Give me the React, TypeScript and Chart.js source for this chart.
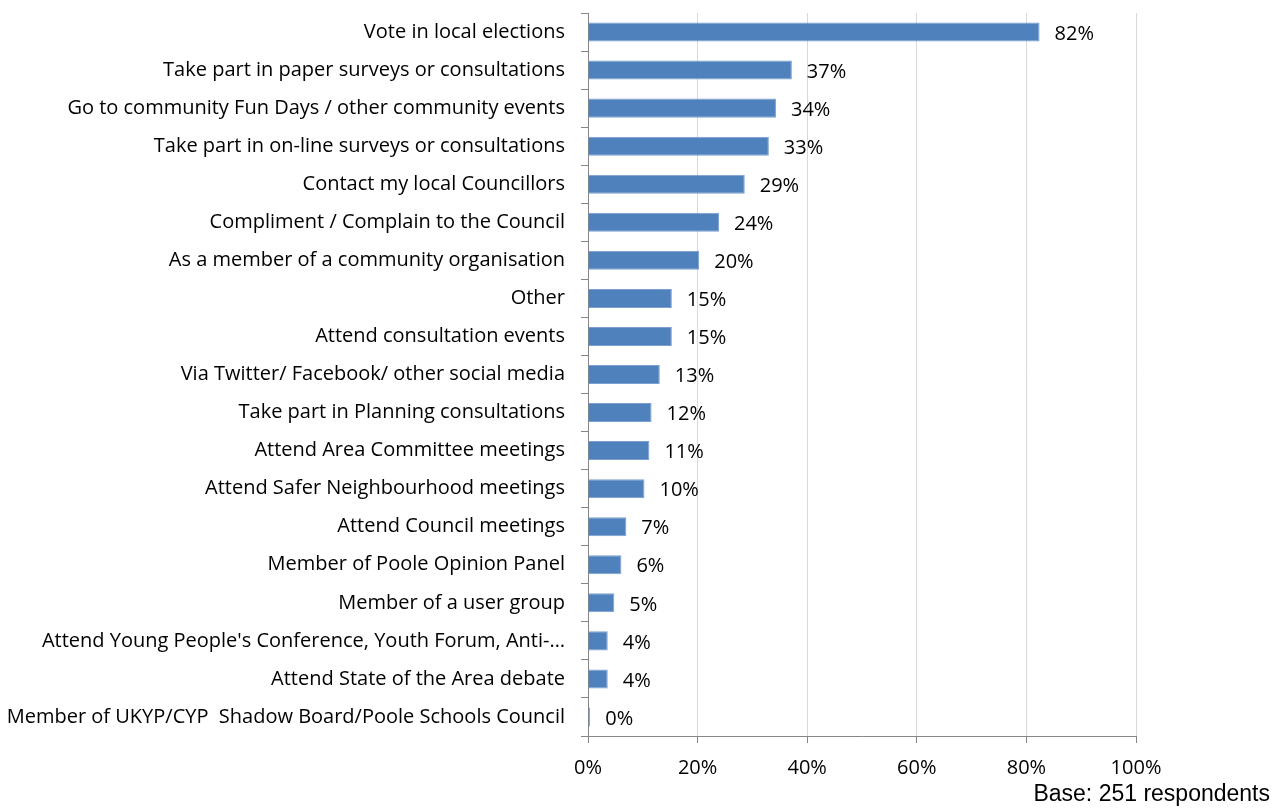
import React, { useEffect, useRef } from "react";
import { Chart, registerables } from "chart.js";

Chart.register(...registerables);

const categories: string[] = [
  "Vote in local elections",
  "Take part in paper surveys or consultations",
  "Go to community Fun Days / other community events",
  "Take part in on-line surveys or consultations",
  "Contact my local Councillors",
  "Compliment / Complain to the Council",
  "As a member of a community organisation",
  "Other",
  "Attend consultation events",
  "Via Twitter/ Facebook/ other social media",
  "Take part in Planning consultations",
  "Attend Area Committee meetings",
  "Attend Safer Neighbourhood meetings",
  "Attend Council meetings",
  "Member of Poole Opinion Panel",
  "Member of a user group",
  "Attend Young People's Conference, Youth Forum, Anti-…",
  "Attend State of the Area debate",
  "Member of UKYP/CYP  Shadow Board/Poole Schools Council",
];

const values: number[] = [82.4, 37.2, 34.3, 33.0, 28.6, 23.9, 20.3, 15.3, 15.3, 13.1, 11.6, 11.2, 10.3, 7.0, 6.1, 4.8, 3.6, 3.6, 0.4];

const valueLabels: string[] = ["82%", "37%", "34%", "33%", "29%", "24%", "20%", "15%", "15%", "13%", "12%", "11%", "10%", "7%", "6%", "5%", "4%", "4%", "0%"];

const xTicks: number[] = [0, 20, 40, 60, 80, 100];

const baseNote = "Base: 251 respondents";

const FONT = "'Open Sans'";
const FSIZE = 20;

const labelPlugin = {
  id: "valueLabels",
  afterDatasetsDraw(chart: any) {
    const ctx = chart.ctx;
    const meta = chart.getDatasetMeta(0);
    ctx.save();
    ctx.font = `${FSIZE}px ${FONT}`;
    ctx.fillStyle = "#000000";
    ctx.textAlign = "left";
    ctx.textBaseline = "middle";
    meta.data.forEach((bar: any, i: number) => {
      ctx.fillText(valueLabels[i], bar.x + 15, bar.y + 2);
    });
    ctx.font = "23px 'Liberation Sans'";
    ctx.textAlign = "right";
    ctx.textBaseline = "alphabetic";
    ctx.fillText(baseNote, 1270, 801);
    ctx.restore();
  },
};

export default function App() {
  const ref = useRef<HTMLCanvasElement | null>(null);
  useEffect(() => {
    if (!ref.current) return;
    const chart = new Chart(ref.current, {
      type: "bar",
      data: {
        labels: categories,
        datasets: [
          {
            data: values,
            backgroundColor: "#4f81bd",
            borderColor: "#7a9fd0",
            borderWidth: 1,
            categoryPercentage: 1,
            barPercentage: 0.5,
          },
        ],
      },
      options: {
        indexAxis: "y",
        animation: false,
        responsive: false,
        devicePixelRatio: 1,
        layout: { padding: { top: 13, right: 144, bottom: 0, left: 0 } },
        plugins: { legend: { display: false }, tooltip: { enabled: false } },
        scales: {
          x: {
            min: 0,
            max: 100,
            afterBuildTicks: (scale: any) => {
              scale.ticks = xTicks.map((v) => ({ value: v }));
            },
            afterFit: (scale: any) => {
              scale.height = 76;
              scale.paddingLeft = 0;
              scale.paddingRight = 0;
            },
            grid: {
              color: "#d9d9d9",
              tickColor: "#868686",
              tickLength: 7,
              lineWidth: 1,
            },
            border: { color: "#868686", width: 1 },
            ticks: {
              color: "#000000",
              font: { family: FONT, size: FSIZE },
              padding: 13,
              callback: (v: any) => v + "%",
            },
          },
          y: {
            afterFit: (scale: any) => {
              scale.width = 588;
              scale.paddingTop = 0;
              scale.paddingBottom = 0;
            },
            grid: {
              offset: true,
              drawOnChartArea: false,
              color: "#868686",
              tickColor: "#868686",
              tickLength: 7,
            },
            border: { color: "#868686", width: 1 },
            ticks: {
              color: "#000000",
              font: { family: FONT, size: FSIZE },
              padding: 16,
              autoSkip: false,
            },
          },
        },
      },
      plugins: [labelPlugin],
    });
    return () => chart.destroy();
  }, []);
  return (
    <div style={{ position: "fixed", left: 0, top: 0, width: 1280, height: 812, background: "#ffffff" }}>
      <canvas ref={ref} width={1280} height={812} style={{ display: "block" }} />
    </div>
  );
}
